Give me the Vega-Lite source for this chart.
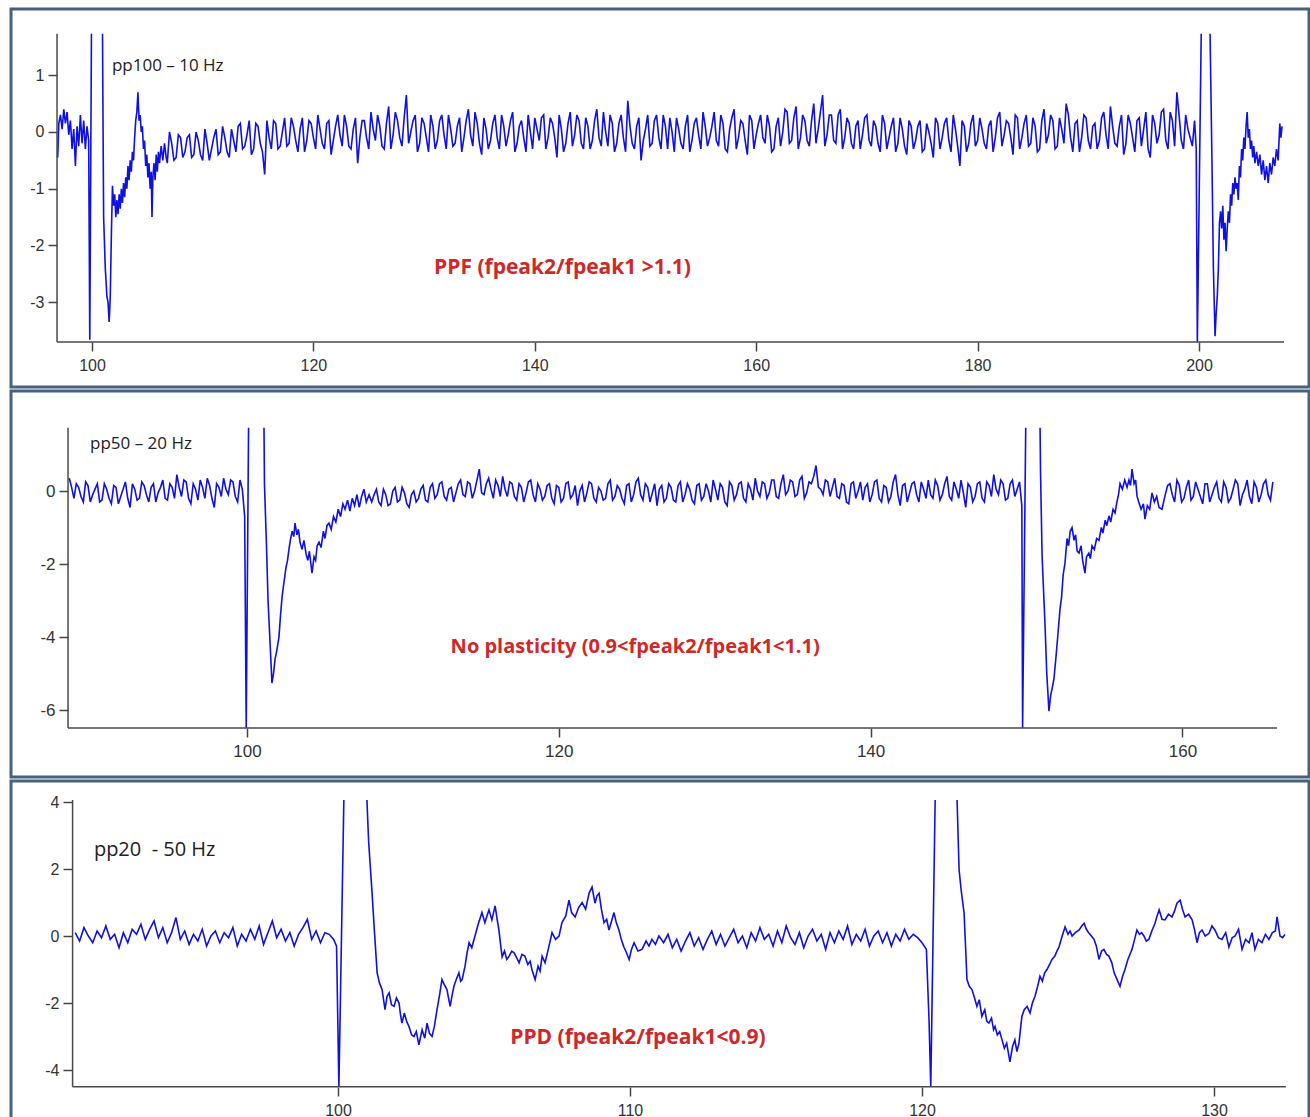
{
"$schema": "https://vega.github.io/schema/vega-lite/v6.json",
"background": "white",
"padding": {"left": 9, "top": 7, "right": 3, "bottom": 0},
"spacing": 0,
"config": {
  "view": {"stroke": "#46627d", "strokeWidth": 3},
  "concat": {"spacing": 0},
  "axis": {"domain": false, "grid": false, "tickSize": 9, "tickColor": "#444444", "tickWidth": 1.5, "labelFont": "Liberation Sans", "labelFontSize": 16, "labelColor": "#333333", "labelPadding": 4, "labelOverlap": false, "title": null, "labelExpr": "datum.value + ''"},
  "axisX": {"labelPadding": 6}
},
"datasets": {
"p1": [
{"x":96.9,"y":-0.45,"s":1},{"x":97.0,"y":0.15,"s":1},{"x":97.15,"y":0.3,"s":1},{"x":97.3,"y":0.05,"s":1},{"x":97.45,"y":0.4,"s":1},{"x":97.6,"y":0.15,"s":1},{"x":97.75,"y":0.35,"s":1},{"x":97.9,"y":-0.05,"s":1},{"x":98.05,"y":0.2,"s":1},{"x":98.2,"y":-0.3,"s":1},{"x":98.35,"y":0.05,"s":1},{"x":98.5,"y":-0.6,"s":1},{"x":98.65,"y":0.1,"s":1},{"x":98.8,"y":-0.25,"s":1},{"x":98.95,"y":0.3,"s":1},{"x":99.1,"y":-0.2,"s":1},{"x":99.25,"y":0.2,"s":1},{"x":99.4,"y":-0.3,"s":1},{"x":99.55,"y":0.1,"s":1},{"x":99.7,"y":-0.15,"s":1},{"x":99.8,"y":-3.66,"s":1},{"x":99.95,"y":1.73,"s":1},
{"x":100.95,"y":1.73,"s":2},{"x":101.0,"y":0.05,"s":2},{"x":101.05,"y":-1.5,"s":2},{"x":101.2,"y":-2.4,"s":2},{"x":101.35,"y":-2.9,"s":2},{"x":101.45,"y":-3.0,"s":2},{"x":101.55,"y":-3.35,"s":2},{"x":101.65,"y":-2.9,"s":2},{"x":101.75,"y":-1.8,"s":2},{"x":101.85,"y":-0.95,"s":2},{"x":101.95,"y":-1.3,"s":2},{"x":102.05,"y":-1.1,"s":2},{"x":102.15,"y":-1.5,"s":2},{"x":102.25,"y":-1.2,"s":2},{"x":102.35,"y":-1.45,"s":2},{"x":102.45,"y":-1.1,"s":2},{"x":102.55,"y":-1.35,"s":2},{"x":102.65,"y":-1.0,"s":2},{"x":102.75,"y":-1.25,"s":2},{"x":102.85,"y":-0.9,"s":2},{"x":102.95,"y":-1.15,"s":2},{"x":103.05,"y":-0.8,"s":2},{"x":103.15,"y":-1.0,"s":2},{"x":103.25,"y":-0.6,"s":2},{"x":103.35,"y":-0.85,"s":2},{"x":103.45,"y":-0.5,"s":2},{"x":103.55,"y":-0.7,"s":2},{"x":103.65,"y":-0.35,"s":2},{"x":103.75,"y":-0.5,"s":2},{"x":103.85,"y":-0.1,"s":2},{"x":103.95,"y":0.2,"s":2},{"x":104.05,"y":0.35,"s":2},{"x":104.15,"y":0.7,"s":2},{"x":104.25,"y":0.2,"s":2},{"x":104.35,"y":0.3,"s":2},{"x":104.45,"y":0.0,"s":2},{"x":104.55,"y":0.1,"s":2},{"x":104.65,"y":-0.3,"s":2},{"x":104.75,"y":-0.15,"s":2},{"x":104.85,"y":-0.6,"s":2},{"x":104.95,"y":-0.4,"s":2},{"x":105.05,"y":-0.8,"s":2},{"x":105.15,"y":-0.55,"s":2},{"x":105.25,"y":-1.0,"s":2},{"x":105.35,"y":-0.7,"s":2},{"x":105.42,"y":-1.5,"s":2},{"x":105.5,"y":-0.8,"s":2},{"x":105.6,"y":-0.55,"s":2},{"x":105.7,"y":-0.85,"s":2},{"x":105.8,"y":-0.4,"s":2},{"x":105.9,"y":-0.7,"s":2},{"x":106.0,"y":-0.35,"s":2},{"x":106.1,"y":-0.55,"s":2},{"x":106.25,"y":-0.25,"s":2},{"x":106.4,"y":-0.5,"s":2},{"x":106.55,"y":-0.2,"s":2},{"x":106.7,"y":-0.45,"s":2},
{"x":106.8,"y":-0.55,"s":2},{"x":107.2,"y":-0.2,"s":2},{"x":107.6,"y":-0.45,"s":2},{"x":108.0,"y":-0.1,"s":2},{"x":108.4,"y":-0.35,"s":2},
{"x":108.8,"y":-0.05,"s":2},{"x":109.2,"y":-0.4,"s":2},{"x":109.6,"y":-0.15,"s":2},{"x":110.0,"y":-0.5,"s":2},{"x":110.4,"y":-0.2,"s":2},
{"x":110.8,"y":-0.3,"s":2},{"x":111.2,"y":0.05,"s":2},{"x":111.6,"y":-0.35,"s":2},{"x":112.0,"y":-0.1,"s":2},{"x":112.4,"y":-0.45,"s":2},
{"x":112.8,"y":-0.15,"s":2},{"x":113.2,"y":0.1,"s":2},{"x":113.6,"y":-0.3,"s":2},{"x":114.0,"y":-0.05,"s":2},{"x":114.4,"y":-0.4,"s":2},
{"x":114.8,"y":0.15,"s":2},{"x":115.2,"y":-0.2,"s":2},{"x":115.6,"y":-0.75,"s":2},{"x":116.0,"y":-0.1,"s":2},{"x":116.4,"y":0.2,"s":2},
{"x":116.8,"y":-0.3,"s":2},{"x":117.2,"y":0.0,"s":2},{"x":117.6,"y":-0.25,"s":2},{"x":118.0,"y":0.25,"s":2},{"x":118.4,"y":-0.15,"s":2},
{"x":118.8,"y":0.05,"s":2},{"x":119.2,"y":-0.35,"s":2},{"x":119.6,"y":0.2,"s":2},{"x":120.0,"y":-0.1,"s":2},{"x":120.4,"y":0.3,"s":2},
{"x":120.8,"y":-0.2,"s":2},{"x":121.2,"y":0.15,"s":2},{"x":121.6,"y":-0.4,"s":2},{"x":122.0,"y":0.1,"s":2},{"x":122.4,"y":-0.05,"s":2},
{"x":122.8,"y":0.3,"s":2},{"x":123.2,"y":-0.25,"s":2},{"x":123.6,"y":0.05,"s":2},{"x":124.0,"y":-0.55,"s":2},{"x":124.4,"y":0.2,"s":2},
{"x":124.8,"y":-0.1,"s":2},{"x":125.2,"y":0.35,"s":2},{"x":125.6,"y":-0.15,"s":2},{"x":126.0,"y":0.1,"s":2},{"x":126.4,"y":-0.3,"s":2},
{"x":126.8,"y":0.45,"s":2},{"x":127.2,"y":-0.05,"s":2},{"x":127.6,"y":0.2,"s":2},{"x":128.0,"y":-0.25,"s":2},{"x":128.4,"y":0.65,"s":2},
{"x":128.8,"y":0.0,"s":2},{"x":129.2,"y":0.3,"s":2},{"x":129.6,"y":-0.2,"s":2},{"x":130.0,"y":0.15,"s":2},{"x":130.4,"y":-0.35,"s":2},
{"x":130.8,"y":0.1,"s":2},{"x":131.2,"y":-0.15,"s":2},{"x":131.6,"y":0.3,"s":2},{"x":132.0,"y":-0.3,"s":2},{"x":132.4,"y":0.05,"s":2},
{"x":132.8,"y":-0.2,"s":2},{"x":133.2,"y":0.25,"s":2},{"x":133.6,"y":-0.1,"s":2},{"x":134.0,"y":0.4,"s":2},{"x":134.4,"y":-0.25,"s":2},
{"x":134.8,"y":0.15,"s":2},{"x":135.2,"y":-0.4,"s":2},{"x":135.6,"y":0.05,"s":2},{"x":136.0,"y":-0.15,"s":2},{"x":136.4,"y":0.3,"s":2},
{"x":136.8,"y":-0.3,"s":2},{"x":137.2,"y":0.1,"s":2},{"x":137.6,"y":-0.05,"s":2},{"x":138.0,"y":0.35,"s":2},{"x":138.4,"y":-0.2,"s":2},
{"x":138.8,"y":0.2,"s":2},{"x":139.2,"y":-0.35,"s":2},{"x":139.6,"y":0.0,"s":2},{"x":140.0,"y":0.25,"s":2},{"x":140.4,"y":-0.15,"s":2},
{"x":140.8,"y":0.3,"s":2},{"x":141.2,"y":-0.1,"s":2},{"x":141.6,"y":0.15,"s":2},{"x":142.0,"y":-0.45,"s":2},{"x":142.4,"y":0.05,"s":2},
{"x":142.8,"y":-0.2,"s":2},{"x":143.2,"y":0.35,"s":2},{"x":143.6,"y":-0.05,"s":2},{"x":144.0,"y":0.2,"s":2},{"x":144.4,"y":-0.3,"s":2},
{"x":144.8,"y":0.1,"s":2},{"x":145.2,"y":-0.15,"s":2},{"x":145.6,"y":0.4,"s":2},{"x":146.0,"y":-0.25,"s":2},{"x":146.4,"y":0.0,"s":2},
{"x":146.8,"y":0.3,"s":2},{"x":147.2,"y":-0.35,"s":2},{"x":147.6,"y":0.15,"s":2},{"x":148.0,"y":-0.1,"s":2},{"x":148.4,"y":0.55,"s":2},
{"x":148.8,"y":-0.2,"s":2},{"x":149.2,"y":0.1,"s":2},{"x":149.6,"y":-0.5,"s":2},{"x":150.0,"y":0.05,"s":2},{"x":150.4,"y":-0.25,"s":2},
{"x":150.8,"y":0.2,"s":2},{"x":151.2,"y":-0.1,"s":2},{"x":151.6,"y":0.3,"s":2},{"x":152.0,"y":-0.3,"s":2},{"x":152.4,"y":0.0,"s":2},
{"x":152.8,"y":0.25,"s":2},{"x":153.2,"y":-0.2,"s":2},{"x":153.6,"y":0.1,"s":2},{"x":154.0,"y":-0.35,"s":2},{"x":154.4,"y":0.15,"s":2},
{"x":154.8,"y":-0.05,"s":2},{"x":155.2,"y":0.35,"s":2},{"x":155.6,"y":-0.25,"s":2},{"x":156.0,"y":0.1,"s":2},{"x":156.4,"y":-0.15,"s":2},
{"x":156.8,"y":0.3,"s":2},{"x":157.2,"y":-0.3,"s":2},{"x":157.6,"y":0.05,"s":2},{"x":158.0,"y":0.4,"s":2},{"x":158.4,"y":-0.1,"s":2},
{"x":158.8,"y":0.15,"s":2},{"x":159.2,"y":-0.4,"s":2},{"x":159.6,"y":0.2,"s":2},{"x":160.0,"y":-0.05,"s":2},{"x":160.4,"y":0.3,"s":2},
{"x":160.8,"y":-0.2,"s":2},{"x":161.2,"y":0.1,"s":2},{"x":161.6,"y":-0.3,"s":2},{"x":162.0,"y":0.25,"s":2},{"x":162.4,"y":0.0,"s":2},
{"x":162.8,"y":0.35,"s":2},{"x":163.2,"y":-0.15,"s":2},{"x":163.6,"y":0.45,"s":2},{"x":164.0,"y":-0.1,"s":2},{"x":164.4,"y":0.2,"s":2},
{"x":164.8,"y":-0.25,"s":2},{"x":165.2,"y":0.5,"s":2},{"x":165.6,"y":0.05,"s":2},{"x":166.0,"y":0.65,"s":2},{"x":166.4,"y":-0.05,"s":2},
{"x":166.8,"y":0.3,"s":2},{"x":167.2,"y":-0.2,"s":2},{"x":167.6,"y":0.4,"s":2},{"x":168.0,"y":-0.1,"s":2},{"x":168.4,"y":0.15,"s":2},
{"x":168.8,"y":-0.3,"s":2},{"x":169.2,"y":0.2,"s":2},{"x":169.6,"y":-0.05,"s":2},{"x":170.0,"y":0.3,"s":2},{"x":170.4,"y":-0.25,"s":2},
{"x":170.8,"y":0.1,"s":2},{"x":171.2,"y":-0.35,"s":2},{"x":171.6,"y":0.15,"s":2},{"x":172.0,"y":-0.1,"s":2},{"x":172.4,"y":0.25,"s":2},
{"x":172.8,"y":-0.2,"s":2},{"x":173.2,"y":0.05,"s":2},{"x":173.6,"y":-0.4,"s":2},{"x":174.0,"y":0.1,"s":2},{"x":174.4,"y":-0.15,"s":2},
{"x":174.8,"y":0.2,"s":2},{"x":175.2,"y":-0.3,"s":2},{"x":175.6,"y":0.0,"s":2},{"x":176.0,"y":-0.45,"s":2},{"x":176.4,"y":0.15,"s":2},
{"x":176.8,"y":-0.1,"s":2},{"x":177.2,"y":0.25,"s":2},{"x":177.6,"y":-0.35,"s":2},{"x":178.0,"y":0.05,"s":2},{"x":178.4,"y":-0.6,"s":2},
{"x":178.8,"y":0.1,"s":2},{"x":179.2,"y":-0.2,"s":2},{"x":179.6,"y":0.3,"s":2},{"x":180.0,"y":-0.15,"s":2},{"x":180.4,"y":0.05,"s":2},
{"x":180.8,"y":-0.3,"s":2},{"x":181.2,"y":0.2,"s":2},{"x":181.6,"y":-0.1,"s":2},{"x":182.0,"y":0.35,"s":2},{"x":182.4,"y":-0.05,"s":2},
{"x":182.8,"y":0.15,"s":2},{"x":183.2,"y":-0.4,"s":2},{"x":183.6,"y":0.25,"s":2},{"x":184.0,"y":-0.1,"s":2},{"x":184.4,"y":0.3,"s":2},
{"x":184.8,"y":-0.2,"s":2},{"x":185.2,"y":0.1,"s":2},{"x":185.6,"y":-0.3,"s":2},{"x":186.0,"y":0.4,"s":2},{"x":186.4,"y":-0.05,"s":2},
{"x":186.8,"y":0.2,"s":2},{"x":187.2,"y":-0.25,"s":2},{"x":187.6,"y":0.05,"s":2},{"x":188.0,"y":0.5,"s":2},{"x":188.4,"y":-0.1,"s":2},
{"x":188.8,"y":0.15,"s":2},{"x":189.2,"y":-0.35,"s":2},{"x":189.6,"y":0.3,"s":2},{"x":190.0,"y":-0.15,"s":2},{"x":190.4,"y":0.1,"s":2},
{"x":190.8,"y":-0.3,"s":2},{"x":191.2,"y":0.25,"s":2},{"x":191.6,"y":-0.05,"s":2},{"x":192.0,"y":0.45,"s":2},{"x":192.4,"y":-0.2,"s":2},
{"x":192.8,"y":0.1,"s":2},{"x":193.2,"y":-0.4,"s":2},{"x":193.6,"y":0.3,"s":2},{"x":194.0,"y":-0.1,"s":2},{"x":194.4,"y":0.2,"s":2},
{"x":194.8,"y":-0.25,"s":2},{"x":195.2,"y":0.35,"s":2},{"x":195.6,"y":-0.45,"s":2},{"x":196.0,"y":0.15,"s":2},{"x":196.4,"y":-0.05,"s":2},
{"x":196.8,"y":0.4,"s":2},{"x":197.2,"y":-0.3,"s":2},{"x":197.6,"y":0.2,"s":2},{"x":198.0,"y":0.7,"s":2},{"x":198.4,"y":-0.15,"s":2},
{"x":198.8,"y":0.3,"s":2},{"x":199.2,"y":-0.1,"s":2},{"x":199.6,"y":0.2,"s":2},{"x":199.75,"y":-0.3,"s":2},{"x":199.85,"y":-3.7,"s":2},{"x":200.2,"y":1.73,"s":2},
{"x":107.0,"y":0.0,"s":2},{"x":107.4,"y":-0.5,"s":2},{"x":107.8,"y":-0.05,"s":2},{"x":108.2,"y":-0.45,"s":2},{"x":108.6,"y":-0.1,"s":2},
{"x":109.0,"y":-0.45,"s":2},{"x":109.4,"y":0.0,"s":2},{"x":109.8,"y":-0.4,"s":2},{"x":110.2,"y":0.05,"s":2},{"x":110.6,"y":-0.5,"s":2},
{"x":111.0,"y":-0.1,"s":2},{"x":111.4,"y":-0.4,"s":2},{"x":111.8,"y":0.1,"s":2},{"x":112.2,"y":-0.35,"s":2},{"x":112.6,"y":0.05,"s":2},
{"x":113.0,"y":-0.35,"s":2},{"x":113.4,"y":0.15,"s":2},{"x":113.8,"y":-0.25,"s":2},{"x":114.2,"y":0.2,"s":2},{"x":114.6,"y":-0.3,"s":2},
{"x":115.0,"y":0.1,"s":2},{"x":115.4,"y":-0.35,"s":2},{"x":115.8,"y":0.2,"s":2},{"x":116.2,"y":-0.3,"s":2},{"x":116.6,"y":0.15,"s":2},
{"x":117.0,"y":-0.25,"s":2},{"x":117.4,"y":0.25,"s":2},{"x":117.8,"y":-0.2,"s":2},{"x":118.2,"y":0.1,"s":2},{"x":118.6,"y":-0.35,"s":2},
{"x":119.0,"y":0.25,"s":2},{"x":119.4,"y":-0.15,"s":2},{"x":119.8,"y":0.15,"s":2},{"x":120.2,"y":-0.3,"s":2},{"x":120.6,"y":0.05,"s":2},
{"x":121.0,"y":-0.3,"s":2},{"x":121.4,"y":0.2,"s":2},{"x":121.8,"y":-0.15,"s":2},{"x":122.2,"y":0.3,"s":2},{"x":122.6,"y":-0.25,"s":2},
{"x":123.0,"y":0.1,"s":2},{"x":123.4,"y":-0.3,"s":2},{"x":123.8,"y":0.25,"s":2},{"x":124.2,"y":-0.1,"s":2},{"x":124.6,"y":0.2,"s":2},
{"x":125.0,"y":-0.3,"s":2},{"x":125.4,"y":0.05,"s":2},{"x":125.8,"y":0.3,"s":2},{"x":126.2,"y":-0.25,"s":2},{"x":126.6,"y":0.15,"s":2},
{"x":127.0,"y":-0.3,"s":2},{"x":127.4,"y":0.35,"s":2},{"x":127.8,"y":-0.1,"s":2},{"x":128.2,"y":0.25,"s":2},{"x":128.6,"y":-0.2,"s":2},
{"x":129.0,"y":0.2,"s":2},{"x":129.4,"y":-0.35,"s":2},{"x":129.8,"y":0.25,"s":2},{"x":130.2,"y":-0.1,"s":2},{"x":130.6,"y":0.3,"s":2},
{"x":131.0,"y":-0.3,"s":2},{"x":131.4,"y":0.2,"s":2},{"x":131.8,"y":-0.05,"s":2},{"x":132.2,"y":0.3,"s":2},{"x":132.6,"y":-0.25,"s":2},
{"x":133.0,"y":0.1,"s":2},{"x":133.4,"y":-0.35,"s":2},{"x":133.8,"y":0.2,"s":2},{"x":134.2,"y":-0.05,"s":2},{"x":134.6,"y":0.35,"s":2},
{"x":135.0,"y":-0.2,"s":2},{"x":135.4,"y":0.25,"s":2},{"x":135.8,"y":-0.3,"s":2},{"x":136.2,"y":0.15,"s":2},{"x":136.6,"y":-0.1,"s":2},
{"x":137.0,"y":0.3,"s":2},{"x":137.4,"y":-0.25,"s":2},{"x":137.8,"y":0.2,"s":2},{"x":138.2,"y":-0.35,"s":2},{"x":138.6,"y":0.1,"s":2},
{"x":139.0,"y":-0.1,"s":2},{"x":139.4,"y":0.3,"s":2},{"x":139.8,"y":-0.3,"s":2},{"x":140.2,"y":0.05,"s":2},{"x":140.6,"y":0.25,"s":2},
{"x":141.0,"y":-0.3,"s":2},{"x":141.4,"y":0.25,"s":2},{"x":141.8,"y":-0.1,"s":2},{"x":142.2,"y":0.3,"s":2},{"x":142.6,"y":-0.35,"s":2},
{"x":143.0,"y":0.15,"s":2},{"x":143.4,"y":-0.25,"s":2},{"x":143.8,"y":0.3,"s":2},{"x":144.2,"y":-0.2,"s":2},{"x":144.6,"y":0.25,"s":2},
{"x":145.0,"y":-0.3,"s":2},{"x":145.4,"y":0.2,"s":2},{"x":145.8,"y":-0.1,"s":2},{"x":146.2,"y":0.35,"s":2},{"x":146.6,"y":-0.25,"s":2},
{"x":147.0,"y":0.15,"s":2},{"x":147.4,"y":-0.2,"s":2},{"x":147.8,"y":0.3,"s":2},{"x":148.2,"y":-0.35,"s":2},{"x":148.6,"y":0.1,"s":2},
{"x":149.0,"y":-0.3,"s":2},{"x":149.4,"y":0.25,"s":2},{"x":149.8,"y":-0.15,"s":2},{"x":150.2,"y":0.3,"s":2},{"x":150.6,"y":-0.2,"s":2},
{"x":151.0,"y":0.3,"s":2},{"x":151.4,"y":-0.3,"s":2},{"x":151.8,"y":0.1,"s":2},{"x":152.2,"y":0.25,"s":2},{"x":152.6,"y":-0.35,"s":2},
{"x":153.0,"y":0.05,"s":2},{"x":153.4,"y":-0.3,"s":2},{"x":153.8,"y":0.3,"s":2},{"x":154.2,"y":-0.15,"s":2},{"x":154.6,"y":0.25,"s":2},
{"x":155.0,"y":-0.3,"s":2},{"x":155.4,"y":0.1,"s":2},{"x":155.8,"y":-0.1,"s":2},{"x":156.2,"y":0.35,"s":2},{"x":156.6,"y":-0.25,"s":2},
{"x":157.0,"y":0.15,"s":2},{"x":157.4,"y":-0.35,"s":2},{"x":157.8,"y":0.25,"s":2},{"x":158.2,"y":-0.3,"s":2},{"x":158.6,"y":0.2,"s":2},
{"x":159.0,"y":-0.15,"s":2},{"x":159.4,"y":0.3,"s":2},{"x":159.8,"y":-0.3,"s":2},{"x":160.2,"y":0.15,"s":2},{"x":160.6,"y":-0.1,"s":2},
{"x":161.0,"y":0.3,"s":2},{"x":161.4,"y":-0.35,"s":2},{"x":161.8,"y":0.1,"s":2},{"x":162.2,"y":-0.25,"s":2},{"x":162.6,"y":0.4,"s":2},
{"x":163.0,"y":-0.2,"s":2},{"x":163.4,"y":0.25,"s":2},{"x":163.8,"y":-0.3,"s":2},{"x":164.2,"y":0.3,"s":2},{"x":164.6,"y":-0.15,"s":2},
{"x":165.0,"y":0.2,"s":2},{"x":165.4,"y":-0.2,"s":2},{"x":165.8,"y":0.35,"s":2},{"x":166.2,"y":-0.25,"s":2},{"x":166.6,"y":0.3,"s":2},
{"x":167.0,"y":-0.15,"s":2},{"x":167.4,"y":0.3,"s":2},{"x":167.8,"y":-0.3,"s":2},{"x":168.2,"y":0.25,"s":2},{"x":168.6,"y":-0.2,"s":2},
{"x":169.0,"y":0.1,"s":2},{"x":169.4,"y":-0.3,"s":2},{"x":169.8,"y":0.25,"s":2},{"x":170.2,"y":-0.15,"s":2},{"x":170.6,"y":0.2,"s":2},
{"x":171.0,"y":-0.2,"s":2},{"x":171.4,"y":0.3,"s":2},{"x":171.8,"y":-0.3,"s":2},{"x":172.2,"y":0.1,"s":2},{"x":172.6,"y":-0.35,"s":2},
{"x":173.0,"y":0.25,"s":2},{"x":173.4,"y":-0.25,"s":2},{"x":173.8,"y":0.2,"s":2},{"x":174.2,"y":-0.3,"s":2},{"x":174.6,"y":0.1,"s":2},
{"x":175.0,"y":-0.35,"s":2},{"x":175.4,"y":0.15,"s":2},{"x":175.8,"y":-0.2,"s":2},{"x":176.2,"y":0.25,"s":2},{"x":176.6,"y":-0.3,"s":2},
{"x":177.0,"y":0.15,"s":2},{"x":177.4,"y":-0.15,"s":2},{"x":177.8,"y":0.3,"s":2},{"x":178.2,"y":-0.25,"s":2},{"x":178.6,"y":0.2,"s":2},
{"x":179.0,"y":-0.35,"s":2},{"x":179.4,"y":0.15,"s":2},{"x":179.8,"y":-0.25,"s":2},{"x":180.2,"y":0.25,"s":2},{"x":180.6,"y":-0.2,"s":2},
{"x":181.0,"y":0.1,"s":2},{"x":181.4,"y":-0.35,"s":2},{"x":181.8,"y":0.25,"s":2},{"x":182.2,"y":-0.25,"s":2},{"x":182.6,"y":0.2,"s":2},
{"x":183.0,"y":-0.1,"s":2},{"x":183.4,"y":0.3,"s":2},{"x":183.8,"y":-0.3,"s":2},{"x":184.2,"y":0.15,"s":2},{"x":184.6,"y":-0.25,"s":2},
{"x":185.0,"y":0.25,"s":2},{"x":185.4,"y":-0.35,"s":2},{"x":185.8,"y":0.2,"s":2},{"x":186.2,"y":-0.2,"s":2},{"x":186.6,"y":0.3,"s":2},
{"x":187.0,"y":-0.3,"s":2},{"x":187.4,"y":0.25,"s":2},{"x":187.8,"y":-0.2,"s":2},{"x":188.2,"y":0.3,"s":2},{"x":188.6,"y":-0.35,"s":2},
{"x":189.0,"y":0.2,"s":2},{"x":189.4,"y":-0.1,"s":2},{"x":189.8,"y":0.25,"s":2},{"x":190.2,"y":-0.3,"s":2},{"x":190.6,"y":0.15,"s":2},
{"x":191.0,"y":-0.15,"s":2},{"x":191.4,"y":0.35,"s":2},{"x":191.8,"y":-0.3,"s":2},{"x":192.2,"y":0.1,"s":2},{"x":192.6,"y":-0.25,"s":2},
{"x":193.0,"y":0.3,"s":2},{"x":193.4,"y":-0.2,"s":2},{"x":193.8,"y":0.15,"s":2},{"x":194.2,"y":-0.35,"s":2},{"x":194.6,"y":0.25,"s":2},
{"x":195.0,"y":0.05,"s":2},{"x":195.4,"y":-0.3,"s":2},{"x":195.8,"y":0.3,"s":2},{"x":196.2,"y":-0.2,"s":2},{"x":196.6,"y":0.35,"s":2},
{"x":197.0,"y":-0.15,"s":2},{"x":197.4,"y":0.35,"s":2},{"x":197.8,"y":-0.25,"s":2},{"x":198.2,"y":0.3,"s":2},{"x":198.6,"y":-0.3,"s":2},
{"x":199.0,"y":0.05,"s":2},{"x":199.4,"y":-0.25,"s":2},
{"x":201.0,"y":1.73,"s":3},{"x":201.17,"y":-0.5,"s":3},{"x":201.3,"y":-2.4,"s":3},{"x":201.45,"y":-3.6,"s":3},{"x":201.55,"y":-3.2,"s":3},{"x":201.65,"y":-2.9,"s":3},{"x":201.75,"y":-2.4,"s":3},{"x":201.85,"y":-1.6,"s":3},{"x":201.95,"y":-1.4,"s":3},{"x":202.05,"y":-1.7,"s":3},{"x":202.15,"y":-1.3,"s":3},{"x":202.25,"y":-1.9,"s":3},{"x":202.35,"y":-1.6,"s":3},{"x":202.45,"y":-2.1,"s":3},{"x":202.55,"y":-1.7,"s":3},{"x":202.65,"y":-1.4,"s":3},{"x":202.75,"y":-1.6,"s":3},{"x":202.85,"y":-1.1,"s":3},{"x":202.95,"y":-1.3,"s":3},{"x":203.05,"y":-0.9,"s":3},{"x":203.15,"y":-1.1,"s":3},{"x":203.25,"y":-0.8,"s":3},{"x":203.35,"y":-1.0,"s":3},{"x":203.45,"y":-0.9,"s":3},{"x":203.55,"y":-1.2,"s":3},{"x":203.65,"y":-0.6,"s":3},{"x":203.75,"y":-0.8,"s":3},{"x":203.85,"y":-0.3,"s":3},{"x":203.95,"y":-0.5,"s":3},{"x":204.05,"y":-0.1,"s":3},{"x":204.15,"y":-0.3,"s":3},{"x":204.25,"y":0.1,"s":3},{"x":204.35,"y":0.35,"s":3},{"x":204.45,"y":-0.1,"s":3},{"x":204.55,"y":0.05,"s":3},{"x":204.65,"y":-0.3,"s":3},{"x":204.75,"y":-0.15,"s":3},{"x":204.85,"y":-0.45,"s":3},{"x":204.95,"y":-0.25,"s":3},{"x":205.05,"y":-0.55,"s":3},{"x":205.2,"y":-0.35,"s":3},{"x":205.35,"y":-0.6,"s":3},{"x":205.5,"y":-0.4,"s":3},{"x":205.65,"y":-0.75,"s":3},{"x":205.8,"y":-0.5,"s":3},{"x":205.95,"y":-0.85,"s":3},{"x":206.1,"y":-0.6,"s":3},{"x":206.25,"y":-0.9,"s":3},{"x":206.4,"y":-0.55,"s":3},{"x":206.55,"y":-0.75,"s":3},{"x":206.7,"y":-0.45,"s":3},{"x":206.85,"y":-0.6,"s":3},{"x":207.0,"y":-0.3,"s":3},{"x":207.15,"y":-0.5,"s":3},{"x":207.3,"y":0.15,"s":3},{"x":207.4,"y":-0.1,"s":3},{"x":207.5,"y":0.1,"s":3}
],
"p2": [
{"x":88.6,"y":0.35,"s":1},{"x":88.9,"y":-0.2,"s":1},{"x":89.2,"y":0.1,"s":1},{"x":89.5,"y":-0.3,"s":1},{"x":89.8,"y":0.15,"s":1},{"x":90.1,"y":-0.1,"s":1},{"x":90.4,"y":0.2,"s":1},{"x":90.7,"y":-0.25,"s":1},{"x":91.0,"y":0.05,"s":1},{"x":91.3,"y":-0.35,"s":1},{"x":91.6,"y":0.1,"s":1},{"x":91.9,"y":-0.15,"s":1},{"x":92.2,"y":0.25,"s":1},{"x":92.5,"y":-0.45,"s":1},{"x":92.8,"y":0.05,"s":1},{"x":93.1,"y":-0.2,"s":1},{"x":93.4,"y":0.15,"s":1},{"x":93.7,"y":-0.3,"s":1},{"x":94.0,"y":0.2,"s":1},{"x":94.3,"y":-0.05,"s":1},{"x":94.6,"y":0.3,"s":1},{"x":94.9,"y":-0.25,"s":1},{"x":95.2,"y":0.1,"s":1},{"x":95.5,"y":0.45,"s":1},{"x":95.8,"y":-0.15,"s":1},{"x":96.1,"y":0.25,"s":1},{"x":96.4,"y":-0.35,"s":1},{"x":96.7,"y":0.05,"s":1},{"x":97.0,"y":0.3,"s":1},{"x":97.3,"y":-0.2,"s":1},{"x":97.6,"y":0.15,"s":1},{"x":97.9,"y":-0.45,"s":1},{"x":98.2,"y":0.1,"s":1},{"x":98.5,"y":0.35,"s":1},{"x":98.8,"y":-0.1,"s":1},{"x":99.1,"y":0.25,"s":1},{"x":99.4,"y":-0.3,"s":1},{"x":99.7,"y":0.05,"s":1},{"x":99.85,"y":-0.7,"s":1},{"x":99.95,"y":-6.49,"s":1},{"x":100.1,"y":1.73,"s":1},
{"x":88.75,"y":0.1,"s":1},{"x":89.05,"y":0.2,"s":1},{"x":89.35,"y":-0.15,"s":1},{"x":89.65,"y":0.25,"s":1},{"x":89.95,"y":-0.3,"s":1},{"x":90.25,"y":0.05,"s":1},{"x":90.55,"y":-0.3,"s":1},{"x":90.85,"y":0.2,"s":1},{"x":91.15,"y":-0.2,"s":1},{"x":91.45,"y":0.15,"s":1},{"x":91.75,"y":-0.35,"s":1},{"x":92.05,"y":0.05,"s":1},{"x":92.35,"y":-0.2,"s":1},{"x":92.65,"y":0.2,"s":1},{"x":92.95,"y":-0.25,"s":1},{"x":93.25,"y":0.25,"s":1},{"x":93.55,"y":-0.1,"s":1},{"x":93.85,"y":0.1,"s":1},{"x":94.15,"y":-0.3,"s":1},{"x":94.45,"y":0.1,"s":1},{"x":94.75,"y":-0.2,"s":1},{"x":95.05,"y":0.2,"s":1},{"x":95.35,"y":-0.2,"s":1},{"x":95.65,"y":0.1,"s":1},{"x":95.95,"y":0.3,"s":1},{"x":96.25,"y":-0.2,"s":1},{"x":96.55,"y":0.2,"s":1},{"x":96.85,"y":-0.25,"s":1},{"x":97.15,"y":0.1,"s":1},{"x":97.45,"y":0.35,"s":1},{"x":97.75,"y":-0.2,"s":1},{"x":98.05,"y":0.2,"s":1},{"x":98.35,"y":-0.15,"s":1},{"x":98.65,"y":0.05,"s":1},{"x":98.95,"y":0.3,"s":1},{"x":99.25,"y":-0.15,"s":1},{"x":99.55,"y":0.3,"s":1},
{"x":101.09,"y":1.73,"s":2},{"x":101.12,"y":0.2,"s":2},{"x":101.25,"y":-1.5,"s":2},{"x":101.35,"y":-3.0,"s":2},{"x":101.45,"y":-3.9,"s":2},{"x":101.55,"y":-4.8,"s":2},{"x":101.6,"y":-5.26,"s":2},{"x":101.7,"y":-5.0,"s":2},{"x":101.8,"y":-4.6,"s":2},{"x":101.9,"y":-4.4,"s":2},{"x":102.05,"y":-4.0,"s":2},{"x":102.15,"y":-3.4,"s":2},{"x":102.25,"y":-2.9,"s":2},{"x":102.37,"y":-2.5,"s":2},{"x":102.5,"y":-2.1,"s":2},{"x":102.6,"y":-1.9,"s":2},{"x":102.69,"y":-1.6,"s":2},{"x":102.8,"y":-1.3,"s":2},{"x":102.9,"y":-1.1,"s":2},{"x":103.0,"y":-1.25,"s":2},{"x":103.08,"y":-0.88,"s":2},{"x":103.2,"y":-1.2,"s":2},{"x":103.3,"y":-1.05,"s":2},{"x":103.4,"y":-1.4,"s":2},{"x":103.53,"y":-1.6,"s":2},{"x":103.65,"y":-1.35,"s":2},{"x":103.8,"y":-1.75,"s":2},{"x":103.9,"y":-1.9,"s":2},{"x":104.0,"y":-1.65,"s":2},{"x":104.17,"y":-2.25,"s":2},{"x":104.3,"y":-1.8,"s":2},{"x":104.4,"y":-1.9,"s":2},{"x":104.5,"y":-1.5,"s":2},{"x":104.62,"y":-1.4,"s":2},{"x":104.75,"y":-1.55,"s":2},{"x":104.9,"y":-1.1,"s":2},{"x":105.0,"y":-1.3,"s":2},{"x":105.13,"y":-0.95,"s":2},{"x":105.26,"y":-0.88,"s":2},{"x":105.4,"y":-1.05,"s":2},{"x":105.55,"y":-0.7,"s":2},{"x":105.7,"y":-0.85,"s":2},{"x":105.85,"y":-0.5,"s":2},{"x":106.0,"y":-0.7,"s":2},{"x":106.15,"y":-0.35,"s":2},{"x":106.29,"y":-0.5,"s":2},{"x":106.45,"y":-0.25,"s":2},{"x":106.6,"y":-0.55,"s":2},{"x":106.75,"y":-0.2,"s":2},{"x":106.9,"y":-0.4,"s":2},{"x":107.05,"y":-0.1,"s":2},{"x":107.2,"y":-0.45,"s":2},{"x":107.35,"y":-0.15,"s":2},{"x":107.5,"y":0.05,"s":2},{"x":107.65,"y":-0.3,"s":2},{"x":107.83,"y":-0.1,"s":2},
{"x":108.0,"y":-0.3,"s":2},{"x":108.3,"y":0.05,"s":2},{"x":108.6,"y":-0.4,"s":2},{"x":108.9,"y":-0.1,"s":2},{"x":109.2,"y":-0.35,"s":2},{"x":109.5,"y":0.1,"s":2},{"x":109.8,"y":-0.25,"s":2},{"x":110.1,"y":-0.05,"s":2},{"x":110.4,"y":-0.45,"s":2},{"x":110.7,"y":0.0,"s":2},
{"x":111.0,"y":-0.2,"s":2},{"x":111.3,"y":0.15,"s":2},{"x":111.6,"y":-0.3,"s":2},{"x":111.9,"y":0.2,"s":2},{"x":112.2,"y":-0.1,"s":2},{"x":112.5,"y":0.25,"s":2},{"x":112.8,"y":-0.25,"s":2},{"x":113.1,"y":0.1,"s":2},{"x":113.4,"y":-0.05,"s":2},{"x":113.7,"y":0.3,"s":2},
{"x":114.0,"y":-0.15,"s":2},{"x":114.3,"y":0.2,"s":2},{"x":114.6,"y":0.0,"s":2},{"x":114.9,"y":0.6,"s":2},{"x":115.2,"y":-0.1,"s":2},{"x":115.5,"y":0.35,"s":2},{"x":115.8,"y":-0.2,"s":2},{"x":116.1,"y":0.15,"s":2},{"x":116.4,"y":0.4,"s":2},{"x":116.7,"y":-0.15,"s":2},
{"x":117.0,"y":0.2,"s":2},{"x":117.3,"y":-0.25,"s":2},{"x":117.6,"y":0.1,"s":2},{"x":117.9,"y":-0.05,"s":2},{"x":118.2,"y":0.3,"s":2},{"x":118.5,"y":-0.3,"s":2},{"x":118.8,"y":0.05,"s":2},{"x":119.1,"y":-0.15,"s":2},{"x":119.4,"y":0.2,"s":2},{"x":119.7,"y":-0.35,"s":2},
{"x":120.0,"y":0.1,"s":2},{"x":120.3,"y":-0.2,"s":2},{"x":120.6,"y":0.25,"s":2},{"x":120.9,"y":-0.1,"s":2},{"x":121.2,"y":-0.4,"s":2},{"x":121.5,"y":0.15,"s":2},{"x":121.8,"y":-0.05,"s":2},{"x":122.1,"y":0.2,"s":2},{"x":122.4,"y":-0.3,"s":2},{"x":122.7,"y":0.0,"s":2},
{"x":123.0,"y":-0.2,"s":2},{"x":123.3,"y":0.3,"s":2},{"x":123.6,"y":-0.15,"s":2},{"x":123.9,"y":0.05,"s":2},{"x":124.2,"y":-0.35,"s":2},{"x":124.5,"y":0.2,"s":2},{"x":124.8,"y":-0.1,"s":2},{"x":125.1,"y":0.35,"s":2},{"x":125.4,"y":-0.25,"s":2},{"x":125.7,"y":0.1,"s":2},
{"x":126.0,"y":-0.05,"s":2},{"x":126.3,"y":-0.4,"s":2},{"x":126.6,"y":0.15,"s":2},{"x":126.9,"y":-0.2,"s":2},{"x":127.2,"y":0.1,"s":2},{"x":127.5,"y":-0.3,"s":2},{"x":127.8,"y":0.25,"s":2},{"x":128.1,"y":-0.1,"s":2},{"x":128.4,"y":0.05,"s":2},{"x":128.7,"y":-0.35,"s":2},
{"x":129.0,"y":0.2,"s":2},{"x":129.3,"y":-0.15,"s":2},{"x":129.6,"y":0.0,"s":2},{"x":129.9,"y":0.3,"s":2},{"x":130.2,"y":-0.25,"s":2},{"x":130.5,"y":0.1,"s":2},{"x":130.8,"y":-0.4,"s":2},{"x":131.1,"y":0.15,"s":2},{"x":131.4,"y":-0.1,"s":2},{"x":131.7,"y":0.25,"s":2},
{"x":132.0,"y":-0.3,"s":2},{"x":132.3,"y":0.05,"s":2},{"x":132.6,"y":0.35,"s":2},{"x":132.9,"y":-0.15,"s":2},{"x":133.2,"y":0.2,"s":2},{"x":133.5,"y":-0.05,"s":2},{"x":133.8,"y":0.3,"s":2},{"x":134.1,"y":-0.2,"s":2},{"x":134.4,"y":0.45,"s":2},{"x":134.7,"y":0.0,"s":2},
{"x":135.0,"y":0.25,"s":2},{"x":135.3,"y":-0.1,"s":2},{"x":135.6,"y":0.4,"s":2},{"x":135.9,"y":-0.05,"s":2},{"x":136.2,"y":0.2,"s":2},{"x":136.5,"y":0.7,"s":2},{"x":136.8,"y":0.05,"s":2},{"x":137.1,"y":0.3,"s":2},{"x":137.4,"y":-0.15,"s":2},{"x":137.7,"y":0.35,"s":2},
{"x":138.0,"y":-0.2,"s":2},{"x":138.3,"y":0.15,"s":2},{"x":138.6,"y":-0.35,"s":2},{"x":138.9,"y":0.25,"s":2},{"x":139.2,"y":0.0,"s":2},{"x":139.5,"y":-0.25,"s":2},{"x":139.8,"y":0.2,"s":2},{"x":140.1,"y":-0.1,"s":2},{"x":140.4,"y":0.3,"s":2},{"x":140.7,"y":-0.3,"s":2},
{"x":141.0,"y":0.1,"s":2},{"x":141.3,"y":-0.15,"s":2},{"x":141.6,"y":0.45,"s":2},{"x":141.9,"y":-0.4,"s":2},{"x":142.2,"y":0.2,"s":2},{"x":142.5,"y":-0.05,"s":2},{"x":142.8,"y":0.25,"s":2},{"x":143.1,"y":-0.3,"s":2},{"x":143.4,"y":0.05,"s":2},{"x":143.7,"y":0.3,"s":2},
{"x":144.0,"y":-0.2,"s":2},{"x":144.3,"y":0.15,"s":2},{"x":144.6,"y":-0.1,"s":2},{"x":144.9,"y":0.4,"s":2},{"x":145.2,"y":-0.25,"s":2},{"x":145.5,"y":0.05,"s":2},{"x":145.8,"y":0.3,"s":2},{"x":146.1,"y":-0.45,"s":2},{"x":146.4,"y":0.1,"s":2},{"x":146.7,"y":-0.15,"s":2},
{"x":147.0,"y":0.25,"s":2},{"x":147.3,"y":-0.3,"s":2},{"x":147.6,"y":0.15,"s":2},{"x":147.9,"y":0.45,"s":2},{"x":148.2,"y":-0.1,"s":2},{"x":148.5,"y":0.2,"s":2},{"x":148.8,"y":-0.2,"s":2},{"x":149.1,"y":0.3,"s":2},{"x":149.4,"y":0.05,"s":2},{"x":149.7,"y":-0.4,"s":2},{"x":149.75,"y":-6.49,"s":2},{"x":149.95,"y":1.73,"s":2},
{"x":108.15,"y":-0.1,"s":2},{"x":108.45,"y":-0.3,"s":2},{"x":108.75,"y":0.05,"s":2},{"x":109.05,"y":-0.4,"s":2},{"x":109.35,"y":0.0,"s":2},{"x":109.65,"y":-0.3,"s":2},{"x":109.95,"y":0.1,"s":2},{"x":110.25,"y":-0.35,"s":2},{"x":110.55,"y":-0.1,"s":2},{"x":110.85,"y":-0.3,"s":2},
{"x":111.15,"y":0.05,"s":2},{"x":111.45,"y":-0.25,"s":2},{"x":111.75,"y":0.1,"s":2},{"x":112.05,"y":-0.2,"s":2},{"x":112.35,"y":0.2,"s":2},{"x":112.65,"y":-0.15,"s":2},{"x":112.95,"y":0.05,"s":2},{"x":113.25,"y":-0.3,"s":2},{"x":113.55,"y":0.2,"s":2},{"x":113.85,"y":-0.1,"s":2},
{"x":114.15,"y":0.25,"s":2},{"x":114.45,"y":-0.2,"s":2},{"x":114.75,"y":0.3,"s":2},{"x":115.05,"y":-0.05,"s":2},{"x":115.35,"y":0.2,"s":2},{"x":115.65,"y":0.05,"s":2},{"x":115.95,"y":0.3,"s":2},{"x":116.25,"y":-0.15,"s":2},{"x":116.55,"y":0.05,"s":2},{"x":116.85,"y":0.25,"s":2},
{"x":117.15,"y":-0.15,"s":2},{"x":117.45,"y":0.2,"s":2},{"x":117.75,"y":-0.3,"s":2},{"x":118.05,"y":0.25,"s":2},{"x":118.35,"y":-0.1,"s":2},{"x":118.65,"y":0.2,"s":2},{"x":118.95,"y":-0.25,"s":2},{"x":119.25,"y":0.15,"s":2},{"x":119.55,"y":-0.2,"s":2},{"x":119.85,"y":0.15,"s":2},
{"x":120.15,"y":-0.3,"s":2},{"x":120.45,"y":0.2,"s":2},{"x":120.75,"y":-0.2,"s":2},{"x":121.05,"y":0.15,"s":2},{"x":121.35,"y":0.0,"s":2},{"x":121.65,"y":-0.3,"s":2},{"x":121.95,"y":0.25,"s":2},{"x":122.25,"y":-0.2,"s":2},{"x":122.55,"y":0.1,"s":2},{"x":122.85,"y":-0.25,"s":2},
{"x":123.15,"y":0.2,"s":2},{"x":123.45,"y":-0.25,"s":2},{"x":123.75,"y":0.15,"s":2},{"x":124.05,"y":-0.2,"s":2},{"x":124.35,"y":0.15,"s":2},{"x":124.65,"y":-0.3,"s":2},{"x":124.95,"y":0.25,"s":2},{"x":125.25,"y":-0.1,"s":2},{"x":125.55,"y":0.2,"s":2},{"x":125.85,"y":-0.3,"s":2},
{"x":126.15,"y":0.2,"s":2},{"x":126.45,"y":0.05,"s":2},{"x":126.75,"y":-0.3,"s":2},{"x":127.05,"y":0.2,"s":2},{"x":127.35,"y":-0.25,"s":2},{"x":127.65,"y":0.15,"s":2},{"x":127.95,"y":-0.3,"s":2},{"x":128.25,"y":0.2,"s":2},{"x":128.55,"y":-0.25,"s":2},{"x":128.85,"y":0.15,"s":2},
{"x":129.15,"y":-0.25,"s":2},{"x":129.45,"y":0.2,"s":2},{"x":129.75,"y":-0.3,"s":2},{"x":130.05,"y":0.05,"s":2},{"x":130.35,"y":0.2,"s":2},{"x":130.65,"y":-0.3,"s":2},{"x":130.95,"y":0.25,"s":2},{"x":131.25,"y":-0.25,"s":2},{"x":131.55,"y":0.2,"s":2},{"x":131.85,"y":-0.2,"s":2},
{"x":132.15,"y":0.2,"s":2},{"x":132.45,"y":-0.25,"s":2},{"x":132.75,"y":0.0,"s":2},{"x":133.05,"y":0.25,"s":2},{"x":133.35,"y":-0.2,"s":2},{"x":133.65,"y":0.3,"s":2},{"x":133.95,"y":-0.15,"s":2},{"x":134.25,"y":0.2,"s":2},{"x":134.55,"y":-0.1,"s":2},{"x":134.85,"y":0.3,"s":2},
{"x":135.15,"y":-0.15,"s":2},{"x":135.45,"y":0.3,"s":2},{"x":135.75,"y":-0.2,"s":2},{"x":136.05,"y":0.25,"s":2},{"x":136.35,"y":0.4,"s":2},{"x":136.65,"y":0.1,"s":2},{"x":136.95,"y":-0.1,"s":2},{"x":137.25,"y":0.25,"s":2},{"x":137.55,"y":0.1,"s":2},{"x":137.85,"y":-0.15,"s":2},
{"x":138.15,"y":0.2,"s":2},{"x":138.45,"y":-0.3,"s":2},{"x":138.75,"y":0.2,"s":2},{"x":139.05,"y":-0.2,"s":2},{"x":139.35,"y":0.25,"s":2},{"x":139.65,"y":0.1,"s":2},{"x":139.95,"y":-0.3,"s":2},{"x":140.25,"y":0.25,"s":2},{"x":140.55,"y":-0.2,"s":2},{"x":140.85,"y":0.15,"s":2},
{"x":141.15,"y":-0.3,"s":2},{"x":141.45,"y":0.25,"s":2},{"x":141.75,"y":-0.1,"s":2},{"x":142.05,"y":0.15,"s":2},{"x":142.35,"y":-0.3,"s":2},{"x":142.65,"y":0.2,"s":2},{"x":142.95,"y":-0.1,"s":2},{"x":143.25,"y":0.25,"s":2},{"x":143.55,"y":-0.2,"s":2},{"x":143.85,"y":-0.1,"s":2},
{"x":144.15,"y":0.3,"s":2},{"x":144.45,"y":-0.25,"s":2},{"x":144.75,"y":0.2,"s":2},{"x":145.05,"y":-0.15,"s":2},{"x":145.35,"y":0.25,"s":2},{"x":145.65,"y":-0.2,"s":2},{"x":145.95,"y":-0.05,"s":2},{"x":146.25,"y":0.2,"s":2},{"x":146.55,"y":-0.3,"s":2},{"x":146.85,"y":0.2,"s":2},
{"x":147.15,"y":-0.2,"s":2},{"x":147.45,"y":0.25,"s":2},{"x":147.75,"y":-0.15,"s":2},{"x":148.05,"y":0.05,"s":2},{"x":148.35,"y":0.3,"s":2},{"x":148.65,"y":-0.25,"s":2},{"x":148.95,"y":0.2,"s":2},{"x":149.25,"y":-0.15,"s":2},{"x":149.55,"y":0.25,"s":2},
{"x":150.87,"y":1.73,"s":3},{"x":150.9,"y":0.5,"s":3},{"x":151.0,"y":-1.78,"s":3},{"x":151.19,"y":-3.7,"s":3},{"x":151.3,"y":-5.0,"s":3},{"x":151.44,"y":-6.03,"s":3},{"x":151.55,"y":-5.6,"s":3},{"x":151.65,"y":-5.4,"s":3},{"x":151.76,"y":-5.15,"s":3},{"x":151.9,"y":-4.5,"s":3},{"x":152.0,"y":-4.0,"s":3},{"x":152.15,"y":-3.23,"s":3},{"x":152.25,"y":-2.9,"s":3},{"x":152.35,"y":-2.3,"s":3},{"x":152.47,"y":-1.97,"s":3},{"x":152.6,"y":-1.3,"s":3},{"x":152.7,"y":-1.5,"s":3},{"x":152.8,"y":-1.1,"s":3},{"x":152.92,"y":-1.0,"s":3},{"x":153.05,"y":-1.35,"s":3},{"x":153.15,"y":-1.2,"s":3},{"x":153.25,"y":-1.65,"s":3},{"x":153.37,"y":-1.7,"s":3},{"x":153.5,"y":-1.5,"s":3},{"x":153.6,"y":-1.9,"s":3},{"x":153.75,"y":-2.25,"s":3},{"x":153.85,"y":-1.8,"s":3},{"x":154.0,"y":-1.7,"s":3},{"x":154.1,"y":-1.85,"s":3},{"x":154.2,"y":-1.5,"s":3},{"x":154.35,"y":-1.6,"s":3},{"x":154.5,"y":-1.3,"s":3},{"x":154.65,"y":-1.35,"s":3},{"x":154.8,"y":-1.0,"s":3},{"x":154.9,"y":-1.15,"s":3},{"x":155.05,"y":-0.8,"s":3},{"x":155.15,"y":-0.95,"s":3},{"x":155.29,"y":-0.68,"s":3},{"x":155.4,"y":-0.85,"s":3},{"x":155.55,"y":-0.5,"s":3},{"x":155.68,"y":-0.6,"s":3},{"x":155.8,"y":-0.3,"s":3},{"x":155.9,"y":-0.1,"s":3},{"x":156.0,"y":0.2,"s":3},{"x":156.15,"y":0.05,"s":3},{"x":156.3,"y":0.3,"s":3},{"x":156.45,"y":0.1,"s":3},{"x":156.57,"y":0.3,"s":3},{"x":156.67,"y":0.15,"s":3},{"x":156.77,"y":0.6,"s":3},{"x":156.9,"y":0.2,"s":3},{"x":157.0,"y":0.3,"s":3},{"x":157.09,"y":-0.14,"s":3},{"x":157.2,"y":-0.3,"s":3},{"x":157.35,"y":-0.5,"s":3},{"x":157.5,"y":-0.35,"s":3},{"x":157.6,"y":-0.77,"s":3},{"x":157.75,"y":-0.4,"s":3},{"x":157.9,"y":-0.5,"s":3},{"x":158.05,"y":-0.05,"s":3},{"x":158.2,"y":-0.3,"s":3},{"x":158.35,"y":-0.15,"s":3},{"x":158.5,"y":-0.45,"s":3},{"x":158.69,"y":-0.5,"s":3},
{"x":158.9,"y":-0.1,"s":3},{"x":159.2,"y":0.2,"s":3},{"x":159.5,"y":-0.3,"s":3},{"x":159.8,"y":0.15,"s":3},{"x":160.1,"y":-0.2,"s":3},{"x":160.4,"y":0.3,"s":3},{"x":160.7,"y":-0.15,"s":3},{"x":161.0,"y":0.05,"s":3},{"x":161.3,"y":-0.35,"s":3},{"x":161.6,"y":0.2,"s":3},{"x":161.9,"y":-0.1,"s":3},{"x":162.2,"y":0.25,"s":3},{"x":162.5,"y":-0.3,"s":3},{"x":162.8,"y":0.1,"s":3},{"x":163.1,"y":-0.2,"s":3},{"x":163.4,"y":0.3,"s":3},{"x":163.7,"y":-0.4,"s":3},{"x":164.0,"y":0.05,"s":3},{"x":164.3,"y":-0.15,"s":3},{"x":164.6,"y":0.25,"s":3},{"x":164.9,"y":-0.3,"s":3},{"x":165.2,"y":0.2,"s":3},{"x":165.5,"y":-0.1,"s":3},{"x":165.8,"y":0.25,"s":3},
{"x":159.05,"y":0.15,"s":3},{"x":159.35,"y":-0.1,"s":3},{"x":159.65,"y":0.3,"s":3},{"x":159.95,"y":-0.3,"s":3},{"x":160.25,"y":0.1,"s":3},{"x":160.55,"y":-0.25,"s":3},{"x":160.85,"y":0.25,"s":3},{"x":161.15,"y":-0.15,"s":3},{"x":161.45,"y":0.2,"s":3},{"x":161.75,"y":-0.3,"s":3},{"x":162.05,"y":0.1,"s":3},{"x":162.35,"y":-0.2,"s":3},{"x":162.65,"y":0.25,"s":3},{"x":162.95,"y":-0.3,"s":3},{"x":163.25,"y":0.05,"s":3},{"x":163.55,"y":0.2,"s":3},{"x":163.85,"y":-0.1,"s":3},{"x":164.15,"y":0.3,"s":3},{"x":164.45,"y":-0.35,"s":3},{"x":164.75,"y":0.1,"s":3},{"x":165.05,"y":-0.1,"s":3},{"x":165.35,"y":0.3,"s":3},{"x":165.65,"y":-0.25,"s":3}
],
"p3": [
{"x":91.0,"y":0.1,"s":1},{"x":91.15,"y":-0.15,"s":1},{"x":91.3,"y":0.25,"s":1},{"x":91.45,"y":0.0,"s":1},{"x":91.6,"y":-0.2,"s":1},{"x":91.75,"y":0.15,"s":1},{"x":91.9,"y":-0.05,"s":1},{"x":92.05,"y":0.3,"s":1},{"x":92.2,"y":-0.1,"s":1},{"x":92.35,"y":0.05,"s":1},
{"x":92.5,"y":-0.35,"s":1},{"x":92.65,"y":0.1,"s":1},{"x":92.8,"y":-0.2,"s":1},{"x":92.95,"y":0.2,"s":1},{"x":93.1,"y":0.05,"s":1},{"x":93.25,"y":0.35,"s":1},{"x":93.4,"y":-0.1,"s":1},{"x":93.55,"y":0.2,"s":1},{"x":93.7,"y":0.45,"s":1},{"x":93.85,"y":-0.05,"s":1},
{"x":94.0,"y":0.25,"s":1},{"x":94.15,"y":-0.2,"s":1},{"x":94.3,"y":0.1,"s":1},{"x":94.45,"y":0.55,"s":1},{"x":94.6,"y":-0.1,"s":1},{"x":94.75,"y":0.15,"s":1},{"x":94.9,"y":-0.25,"s":1},{"x":95.05,"y":0.05,"s":1},{"x":95.2,"y":-0.15,"s":1},{"x":95.35,"y":0.2,"s":1},
{"x":95.5,"y":-0.3,"s":1},{"x":95.65,"y":0.0,"s":1},{"x":95.8,"y":0.15,"s":1},{"x":95.95,"y":-0.2,"s":1},{"x":96.1,"y":0.1,"s":1},{"x":96.25,"y":-0.05,"s":1},{"x":96.4,"y":0.25,"s":1},{"x":96.55,"y":-0.3,"s":1},{"x":96.7,"y":0.05,"s":1},{"x":96.85,"y":-0.15,"s":1},
{"x":97.0,"y":0.2,"s":1},{"x":97.15,"y":-0.1,"s":1},{"x":97.3,"y":0.3,"s":1},{"x":97.45,"y":-0.25,"s":1},{"x":97.6,"y":0.1,"s":1},{"x":97.75,"y":0.45,"s":1},{"x":97.9,"y":-0.05,"s":1},{"x":98.05,"y":0.2,"s":1},{"x":98.2,"y":-0.15,"s":1},{"x":98.35,"y":0.1,"s":1},
{"x":98.5,"y":-0.3,"s":1},{"x":98.65,"y":0.05,"s":1},{"x":98.8,"y":0.25,"s":1},{"x":98.95,"y":0.5,"s":1},{"x":99.1,"y":-0.1,"s":1},{"x":99.25,"y":0.15,"s":1},{"x":99.4,"y":-0.2,"s":1},{"x":99.55,"y":0.1,"s":1},{"x":99.7,"y":0.05,"s":1},{"x":99.85,"y":-0.1,"s":1},{"x":99.95,"y":-0.3,"s":1},{"x":100.03,"y":-4.5,"s":1},{"x":100.2,"y":4.06,"s":1},
{"x":100.99,"y":4.06,"s":2},{"x":101.05,"y":2.8,"s":2},{"x":101.16,"y":1.37,"s":2},{"x":101.25,"y":0.1,"s":2},{"x":101.34,"y":-1.1,"s":2},{"x":101.42,"y":-1.4,"s":2},{"x":101.51,"y":-1.6,"s":2},{"x":101.56,"y":-1.9,"s":2},{"x":101.61,"y":-2.2,"s":2},{"x":101.68,"y":-1.8,"s":2},{"x":101.75,"y":-1.7,"s":2},{"x":101.83,"y":-2.05,"s":2},{"x":101.92,"y":-2.1,"s":2},{"x":102.0,"y":-1.85,"s":2},{"x":102.09,"y":-2.0,"s":2},{"x":102.14,"y":-2.35,"s":2},{"x":102.19,"y":-2.6,"s":2},{"x":102.27,"y":-2.3,"s":2},{"x":102.35,"y":-2.55,"s":2},{"x":102.43,"y":-2.7,"s":2},{"x":102.52,"y":-2.95,"s":2},{"x":102.6,"y":-3.0,"s":2},{"x":102.68,"y":-2.85,"s":2},{"x":102.77,"y":-3.25,"s":2},{"x":102.83,"y":-3.0,"s":2},{"x":102.88,"y":-2.8,"s":2},{"x":102.97,"y":-3.05,"s":2},{"x":103.05,"y":-2.6,"s":2},{"x":103.13,"y":-2.9,"s":2},{"x":103.22,"y":-3.0,"s":2},{"x":103.3,"y":-2.7,"s":2},{"x":103.39,"y":-2.2,"s":2},{"x":103.47,"y":-1.8,"s":2},{"x":103.56,"y":-1.3,"s":2},{"x":103.64,"y":-1.45,"s":2},{"x":103.73,"y":-1.6,"s":2},{"x":103.84,"y":-2.1,"s":2},{"x":103.9,"y":-1.8,"s":2},{"x":103.97,"y":-1.5,"s":2},{"x":104.05,"y":-1.3,"s":2},{"x":104.14,"y":-1.1,"s":2},{"x":104.2,"y":-1.35,"s":2},{"x":104.25,"y":-1.3,"s":2},{"x":104.35,"y":-0.9,"s":2},{"x":104.42,"y":-0.5,"s":2},{"x":104.49,"y":-0.2,"s":2},{"x":104.58,"y":-0.35,"s":2},{"x":104.69,"y":0.0,"s":2},{"x":104.8,"y":0.35,"s":2},{"x":104.93,"y":0.7,"s":2},{"x":105.03,"y":0.4,"s":2},{"x":105.1,"y":0.6,"s":2},{"x":105.17,"y":0.78,"s":2},{"x":105.27,"y":0.48,"s":2},{"x":105.38,"y":0.9,"s":2},{"x":105.45,"y":0.5,"s":2},{"x":105.51,"y":0.18,"s":2},{"x":105.56,"y":-0.2,"s":2},{"x":105.62,"y":-0.62,"s":2},{"x":105.7,"y":-0.45,"s":2},{"x":105.78,"y":-0.7,"s":2},{"x":105.86,"y":-0.6,"s":2},{"x":105.95,"y":-0.45,"s":2},{"x":106.03,"y":-0.5,"s":2},{"x":106.12,"y":-0.65,"s":2},{"x":106.2,"y":-0.8,"s":2},{"x":106.3,"y":-0.55,"s":2},{"x":106.4,"y":-0.6,"s":2},{"x":106.5,"y":-0.85,"s":2},{"x":106.58,"y":-0.75,"s":2},{"x":106.64,"y":-1.0,"s":2},{"x":106.75,"y":-1.3,"s":2},{"x":106.85,"y":-0.9,"s":2},{"x":106.92,"y":-1.05,"s":2},{"x":106.99,"y":-0.6,"s":2},{"x":107.09,"y":-0.8,"s":2},{"x":107.2,"y":-0.4,"s":2},{"x":107.33,"y":0.1,"s":2},{"x":107.45,"y":-0.1,"s":2},{"x":107.57,"y":0.0,"s":2},{"x":107.67,"y":0.4,"s":2},{"x":107.8,"y":0.6,"s":2},{"x":107.91,"y":1.07,"s":2},{"x":108.0,"y":0.7,"s":2},{"x":108.12,"y":0.57,"s":2},{"x":108.24,"y":0.85,"s":2},{"x":108.36,"y":1.0,"s":2},{"x":108.48,"y":0.8,"s":2},{"x":108.6,"y":1.28,"s":2},{"x":108.7,"y":1.46,"s":2},{"x":108.8,"y":0.98,"s":2},{"x":108.87,"y":1.2,"s":2},{"x":108.94,"y":1.28,"s":2},{"x":109.02,"y":0.8,"s":2},{"x":109.11,"y":0.4,"s":2},{"x":109.2,"y":0.5,"s":2},{"x":109.28,"y":0.18,"s":2},{"x":109.37,"y":0.45,"s":2},{"x":109.45,"y":0.7,"s":2},{"x":109.53,"y":0.4,"s":2},{"x":109.62,"y":0.18,"s":2},{"x":109.7,"y":-0.1,"s":2},{"x":109.79,"y":-0.33,"s":2},{"x":109.88,"y":-0.5,"s":2},{"x":109.97,"y":-0.7,"s":2},{"x":110.05,"y":-0.4,"s":2},{"x":110.14,"y":-0.2,"s":2},{"x":110.27,"y":-0.45,"s":2},{"x":110.41,"y":-0.4,"s":2},{"x":110.55,"y":-0.15,"s":2},{"x":110.65,"y":-0.3,"s":2},{"x":110.75,"y":-0.1,"s":2},{"x":110.87,"y":-0.25,"s":2},{"x":110.99,"y":0.0,"s":2},
{"x":111.15,"y":-0.2,"s":2},{"x":111.3,"y":0.05,"s":2},{"x":111.45,"y":-0.35,"s":2},{"x":111.6,"y":-0.1,"s":2},{"x":111.75,"y":-0.45,"s":2},{"x":111.9,"y":-0.15,"s":2},{"x":112.05,"y":0.1,"s":2},{"x":112.2,"y":-0.3,"s":2},{"x":112.35,"y":-0.05,"s":2},{"x":112.5,"y":-0.4,"s":2},
{"x":112.65,"y":-0.1,"s":2},{"x":112.8,"y":0.15,"s":2},{"x":112.95,"y":-0.25,"s":2},{"x":113.1,"y":0.05,"s":2},{"x":113.25,"y":-0.3,"s":2},{"x":113.4,"y":-0.05,"s":2},{"x":113.55,"y":0.2,"s":2},{"x":113.7,"y":-0.2,"s":2},{"x":113.85,"y":0.0,"s":2},{"x":114.0,"y":-0.35,"s":2},
{"x":114.15,"y":0.1,"s":2},{"x":114.3,"y":-0.15,"s":2},{"x":114.45,"y":0.25,"s":2},{"x":114.6,"y":-0.1,"s":2},{"x":114.75,"y":0.05,"s":2},{"x":114.9,"y":-0.3,"s":2},{"x":115.05,"y":0.15,"s":2},{"x":115.2,"y":-0.2,"s":2},{"x":115.35,"y":0.3,"s":2},{"x":115.5,"y":-0.05,"s":2},
{"x":115.65,"y":-0.25,"s":2},{"x":115.8,"y":0.1,"s":2},{"x":115.95,"y":-0.35,"s":2},{"x":116.1,"y":0.0,"s":2},{"x":116.25,"y":0.2,"s":2},{"x":116.4,"y":-0.15,"s":2},{"x":116.55,"y":0.05,"s":2},{"x":116.7,"y":-0.4,"s":2},{"x":116.85,"y":0.1,"s":2},{"x":117.0,"y":-0.2,"s":2},
{"x":117.15,"y":0.15,"s":2},{"x":117.3,"y":-0.1,"s":2},{"x":117.45,"y":0.3,"s":2},{"x":117.6,"y":-0.25,"s":2},{"x":117.75,"y":0.05,"s":2},{"x":117.9,"y":-0.15,"s":2},{"x":118.05,"y":0.2,"s":2},{"x":118.2,"y":-0.3,"s":2},{"x":118.35,"y":0.0,"s":2},{"x":118.5,"y":0.15,"s":2},
{"x":118.65,"y":-0.2,"s":2},{"x":118.8,"y":0.1,"s":2},{"x":118.95,"y":-0.3,"s":2},{"x":119.1,"y":0.05,"s":2},{"x":119.25,"y":-0.15,"s":2},{"x":119.4,"y":0.2,"s":2},{"x":119.55,"y":-0.1,"s":2},{"x":119.7,"y":0.05,"s":2},{"x":119.85,"y":-0.05,"s":2},{"x":120.0,"y":-0.2,"s":2},{"x":120.15,"y":-0.4,"s":2},{"x":120.24,"y":-2.5,"s":2},{"x":120.3,"y":-4.5,"s":2},{"x":120.45,"y":4.06,"s":2},
{"x":121.2,"y":4.06,"s":3},{"x":121.27,"y":1.97,"s":3},{"x":121.35,"y":1.3,"s":3},{"x":121.44,"y":0.69,"s":3},{"x":121.49,"y":-0.3,"s":3},{"x":121.54,"y":-1.3,"s":3},{"x":121.62,"y":-1.5,"s":3},{"x":121.71,"y":-1.6,"s":3},{"x":121.8,"y":-1.85,"s":3},{"x":121.88,"y":-2.1,"s":3},{"x":121.96,"y":-1.9,"s":3},{"x":122.05,"y":-2.4,"s":3},{"x":122.15,"y":-2.2,"s":3},{"x":122.22,"y":-2.55,"s":3},{"x":122.29,"y":-2.6,"s":3},{"x":122.38,"y":-2.45,"s":3},{"x":122.45,"y":-2.8,"s":3},{"x":122.5,"y":-2.7,"s":3},{"x":122.58,"y":-2.95,"s":3},{"x":122.66,"y":-2.85,"s":3},{"x":122.74,"y":-3.1,"s":3},{"x":122.82,"y":-3.35,"s":3},{"x":122.9,"y":-3.2,"s":3},{"x":122.96,"y":-3.5,"s":3},{"x":123.01,"y":-3.76,"s":3},{"x":123.1,"y":-3.3,"s":3},{"x":123.18,"y":-3.1,"s":3},{"x":123.25,"y":-3.45,"s":3},{"x":123.32,"y":-3.2,"s":3},{"x":123.37,"y":-2.8,"s":3},{"x":123.42,"y":-2.4,"s":3},{"x":123.5,"y":-2.2,"s":3},{"x":123.6,"y":-2.1,"s":3},{"x":123.7,"y":-2.3,"s":3},{"x":123.78,"y":-2.0,"s":3},{"x":123.87,"y":-1.8,"s":3},{"x":123.96,"y":-1.5,"s":3},{"x":124.04,"y":-1.2,"s":3},{"x":124.12,"y":-1.35,"s":3},{"x":124.2,"y":-1.1,"s":3},{"x":124.28,"y":-1.0,"s":3},{"x":124.37,"y":-0.85,"s":3},{"x":124.45,"y":-0.7,"s":3},{"x":124.55,"y":-0.6,"s":3},{"x":124.62,"y":-0.45,"s":3},{"x":124.69,"y":-0.33,"s":3},{"x":124.8,"y":0.0,"s":3},{"x":124.9,"y":0.27,"s":3},{"x":125.0,"y":0.05,"s":3},{"x":125.07,"y":0.15,"s":3},{"x":125.14,"y":0.0,"s":3},{"x":125.25,"y":0.1,"s":3},{"x":125.38,"y":0.18,"s":3},{"x":125.47,"y":0.3,"s":3},{"x":125.55,"y":0.38,"s":3},{"x":125.63,"y":0.2,"s":3},{"x":125.72,"y":0.08,"s":3},{"x":125.8,"y":0.0,"s":3},{"x":125.89,"y":-0.1,"s":3},{"x":125.97,"y":-0.3,"s":3},{"x":126.06,"y":-0.7,"s":3},{"x":126.15,"y":-0.45,"s":3},{"x":126.23,"y":-0.4,"s":3},{"x":126.32,"y":-0.55,"s":3},{"x":126.4,"y":-0.6,"s":3},{"x":126.5,"y":-0.8,"s":3},{"x":126.58,"y":-1.1,"s":3},{"x":126.68,"y":-1.3,"s":3},{"x":126.78,"y":-1.5,"s":3},{"x":126.87,"y":-1.2,"s":3},{"x":126.95,"y":-1.0,"s":3},{"x":127.05,"y":-0.7,"s":3},{"x":127.12,"y":-0.55,"s":3},{"x":127.19,"y":-0.4,"s":3},{"x":127.28,"y":-0.1,"s":3},{"x":127.36,"y":0.18,"s":3},{"x":127.45,"y":0.05,"s":3},{"x":127.52,"y":0.1,"s":3},{"x":127.6,"y":0.0,"s":3},{"x":127.68,"y":-0.15,"s":3},{"x":127.77,"y":-0.1,"s":3},{"x":127.87,"y":0.15,"s":3},{"x":127.98,"y":0.38,"s":3},{"x":128.05,"y":0.6,"s":3},{"x":128.12,"y":0.78,"s":3},{"x":128.22,"y":0.5,"s":3},{"x":128.32,"y":0.48,"s":3},{"x":128.44,"y":0.65,"s":3},{"x":128.56,"y":0.57,"s":3},{"x":128.65,"y":0.75,"s":3},{"x":128.73,"y":0.98,"s":3},{"x":128.84,"y":1.07,"s":3},{"x":128.92,"y":0.8,"s":3},{"x":129.01,"y":0.57,"s":3},{"x":129.13,"y":0.65,"s":3},{"x":129.25,"y":0.48,"s":3},{"x":129.33,"y":0.2,"s":3},{"x":129.42,"y":-0.2,"s":3},{"x":129.5,"y":0.1,"s":3},{"x":129.59,"y":0.18,"s":3},{"x":129.7,"y":0.0,"s":3},{"x":129.83,"y":0.08,"s":3},{"x":129.93,"y":0.3,"s":3},{"x":130.03,"y":0.18,"s":3},{"x":130.15,"y":-0.05,"s":3},{"x":130.27,"y":-0.1,"s":3},{"x":130.4,"y":0.1,"s":3},{"x":130.51,"y":-0.33,"s":3},{"x":130.62,"y":-0.05,"s":3},{"x":130.72,"y":0.0,"s":3},{"x":130.84,"y":0.2,"s":3},{"x":130.96,"y":-0.4,"s":3},{"x":131.08,"y":-0.1,"s":3},{"x":131.2,"y":-0.2,"s":3},{"x":131.3,"y":0.1,"s":3},{"x":131.4,"y":-0.4,"s":3},{"x":131.52,"y":-0.1,"s":3},{"x":131.64,"y":-0.2,"s":3},{"x":131.76,"y":0.05,"s":3},{"x":131.88,"y":-0.1,"s":3},{"x":132.0,"y":0.1,"s":3},{"x":132.1,"y":0.15,"s":3},{"x":132.16,"y":0.57,"s":3},{"x":132.26,"y":0.0,"s":3},{"x":132.35,"y":-0.05,"s":3},{"x":132.43,"y":0.05,"s":3}
]
},
"vconcat": [
{
 "width": 1298, "height": 378,
 "layer": [
  {"data": {"name": "p1"}, "mark": {"type": "line", "color": "#1010e0", "strokeWidth": 1.6},
   "encoding": {
    "x": {"field": "x", "type": "quantitative", "scale": {"domain": [92.683, 209.937], "nice": false, "zero": false}, "axis": {"values": [100, 120, 140, 160, 180, 200], "offset": -45}},
    "y": {"field": "y", "type": "quantitative", "scale": {"domain": [-4.494, 2.167], "nice": false, "zero": false}, "axis": {"values": [-3, -2, -1, 0, 1], "offset": -46}},
    "detail": {"field": "s", "type": "nominal"}}},
  {"data": {"values": [{}]}, "mark": {"type": "rule", "color": "#4a4a4a", "strokeWidth": 1.5},
   "encoding": {"x": {"datum": 96.84, "type": "quantitative"}, "x2": {"datum": 207.68}, "y": {"datum": -3.70, "type": "quantitative"}}},
  {"data": {"values": [{}]}, "mark": {"type": "rule", "color": "#4a4a4a", "strokeWidth": 1.5},
   "encoding": {"x": {"datum": 96.84, "type": "quantitative"}, "y": {"datum": -3.70, "type": "quantitative"}, "y2": {"datum": 1.73}}},
  {"data": {"values": [{"t": "pp100 – 10 Hz"}]}, "mark": {"type": "text", "align": "left", "baseline": "middle", "font": "Open Sans", "fontSize": 17, "color": "#222222"},
   "encoding": {"x": {"datum": 101.8, "type": "quantitative"}, "y": {"datum": 1.16, "type": "quantitative"}, "text": {"field": "t"}}},
  {"data": {"values": [{"t": "PPF (fpeak2/fpeak1 >1.1)"}]}, "mark": {"type": "text", "align": "center", "baseline": "middle", "font": "Open Sans", "fontWeight": "bold", "fontSize": 21, "color": "#d02828"},
   "encoding": {"x": {"datum": 142.5, "type": "quantitative"}, "y": {"datum": -2.40, "type": "quantitative"}, "text": {"field": "t"}}}
 ]
},
{
 "width": 1298, "height": 386,
 "layer": [
  {"data": {"name": "p2"}, "mark": {"type": "line", "color": "#1010e0", "strokeWidth": 1.6},
   "encoding": {
    "x": {"field": "x", "type": "quantitative", "scale": {"domain": [84.862, 168.12], "nice": false, "zero": false}, "axis": {"values": [100, 120, 140, 160], "offset": -49, "labelFontSize": 17}},
    "y": {"field": "y", "type": "quantitative", "scale": {"domain": [-7.835, 2.74], "nice": false, "zero": false}, "axis": {"values": [-6, -4, -2, 0], "offset": -57, "labelFontSize": 17}},
    "detail": {"field": "s", "type": "nominal"}}},
  {"data": {"values": [{}]}, "mark": {"type": "rule", "color": "#4a4a4a", "strokeWidth": 1.5},
   "encoding": {"x": {"datum": 88.52, "type": "quantitative"}, "x2": {"datum": 166.07}, "y": {"datum": -6.49, "type": "quantitative"}}},
  {"data": {"values": [{}]}, "mark": {"type": "rule", "color": "#4a4a4a", "strokeWidth": 1.5},
   "encoding": {"x": {"datum": 88.52, "type": "quantitative"}, "y": {"datum": -6.49, "type": "quantitative"}, "y2": {"datum": 1.73}}},
  {"data": {"values": [{"t": "pp50 – 20 Hz"}]}, "mark": {"type": "text", "align": "left", "baseline": "middle", "font": "Open Sans", "fontSize": 17, "color": "#222222"},
   "encoding": {"x": {"datum": 89.93, "type": "quantitative"}, "y": {"datum": 1.29, "type": "quantitative"}, "text": {"field": "t"}}},
  {"data": {"values": [{"t": "No plasticity (0.9<fpeak2/fpeak1<1.1)"}]}, "mark": {"type": "text", "align": "center", "baseline": "middle", "font": "Open Sans", "fontWeight": "bold", "fontSize": 20, "color": "#d02828"},
   "encoding": {"x": {"datum": 124.9, "type": "quantitative"}, "y": {"datum": -4.27, "type": "quantitative"}, "text": {"field": "t"}}}
 ]
},
{
 "width": 1298, "height": 346,
 "layer": [
  {"data": {"name": "p3"}, "mark": {"type": "line", "color": "#1010e0", "strokeWidth": 1.6},
   "encoding": {
    "x": {"field": "x", "type": "quantitative", "scale": {"domain": [88.801, 133.253], "nice": false, "zero": false}, "axis": {"values": [100, 110, 120, 130], "offset": -40}},
    "y": {"field": "y", "type": "quantitative", "scale": {"domain": [-5.701, 4.627], "nice": false, "zero": false}, "axis": {"values": [-4, -2, 0, 2, 4], "offset": -61}},
    "detail": {"field": "s", "type": "nominal"}}},
  {"data": {"values": [{}]}, "mark": {"type": "rule", "color": "#4a4a4a", "strokeWidth": 1.5},
   "encoding": {"x": {"datum": 90.91, "type": "quantitative"}, "x2": {"datum": 132.46}, "y": {"datum": -4.5, "type": "quantitative"}}},
  {"data": {"values": [{}]}, "mark": {"type": "rule", "color": "#4a4a4a", "strokeWidth": 1.5},
   "encoding": {"x": {"datum": 90.91, "type": "quantitative"}, "y": {"datum": -4.5, "type": "quantitative"}, "y2": {"datum": 4.06}}},
  {"data": {"values": [{"t": "pp20\u00a0 - 50 Hz"}]}, "mark": {"type": "text", "align": "left", "baseline": "middle", "font": "Open Sans", "fontSize": 20, "color": "#222222"},
   "encoding": {"x": {"datum": 91.64, "type": "quantitative"}, "y": {"datum": 2.57, "type": "quantitative"}, "text": {"field": "t"}}},
  {"data": {"values": [{"t": "PPD (fpeak2/fpeak1<0.9)"}]}, "mark": {"type": "text", "align": "center", "baseline": "middle", "font": "Open Sans", "fontWeight": "bold", "fontSize": 21, "color": "#d02828"},
   "encoding": {"x": {"datum": 110.27, "type": "quantitative"}, "y": {"datum": -3.04, "type": "quantitative"}, "text": {"field": "t"}}}
 ]
}
]
}
